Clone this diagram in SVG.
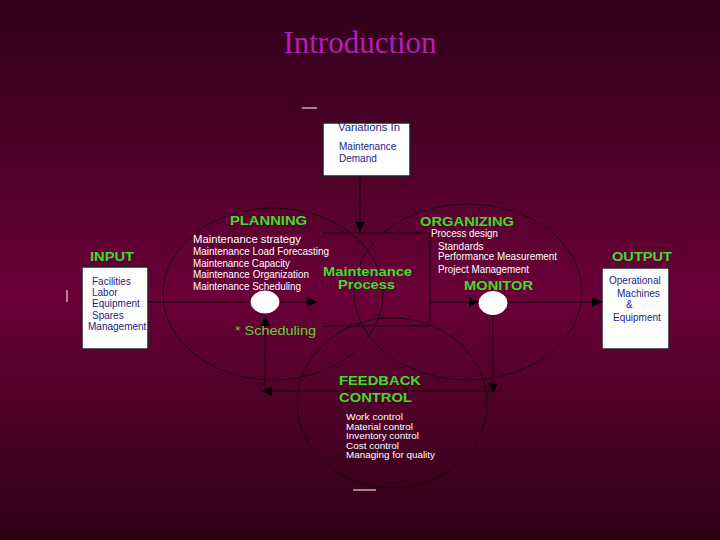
<svg xmlns="http://www.w3.org/2000/svg" width="720" height="540" viewBox="0 0 720 540">
<defs>
<linearGradient id="bg" x1="0" y1="0" x2="0" y2="1">
<stop offset="0" stop-color="#30001a"/>
<stop offset="0.55" stop-color="#6a0038"/>
<stop offset="1" stop-color="#2e0016"/>
</linearGradient>
<marker id="ah" viewBox="0 0 10 10" refX="10" refY="5" markerWidth="10" markerHeight="11" markerUnits="userSpaceOnUse" orient="auto">
<path d="M0,0 L10,5 L0,10 Z" fill="#000"/>
</marker>
<style>
.ln{stroke:#120008;stroke-width:1;fill:none}
.ring{stroke:#1a0610;stroke-width:1;fill:none}
.box{fill:#fff;stroke:#222;stroke-width:1.5}
.node{fill:#fff;stroke:#fff}
.hd{font-family:"Liberation Sans",Arial,sans-serif;font-weight:bold;font-size:12px;fill:#3fdc2a}
.wt{font-family:"Liberation Sans",Arial,sans-serif;font-size:10px;fill:#ffffff}
.fb{font-family:"Liberation Sans",Arial,sans-serif;font-size:9px;fill:#ffffff}
.bl{font-family:"Liberation Sans",Arial,sans-serif;font-size:10px;fill:#1c1c8a}
.dash{stroke:#e8d8e0;stroke-width:1.2}
</style>
</defs>
<rect x="0" y="0" width="720" height="540" fill="url(#bg)"/>
<text x="360" y="53" text-anchor="middle" font-family="Liberation Serif,Times New Roman,serif" font-size="31" fill="#b41eb4">Introduction</text>

<g id="rings">
<ellipse class="ring" cx="273" cy="294" rx="110" ry="86"/>
<ellipse class="ring" cx="468" cy="292" rx="114" ry="88"/>
<ellipse class="ring" cx="392" cy="403" rx="95" ry="85"/>
</g>

<g id="artifacts">
<line class="dash" x1="302" y1="108" x2="317" y2="108"/>
<line class="dash" x1="67" y1="290" x2="67" y2="302"/>
<line class="dash" x1="353" y1="490" x2="376" y2="490"/>
</g>

<g id="connectors">
<line class="ln" x1="360" y1="176" x2="360" y2="232" marker-end="url(#ah)"/>
<polyline class="ln" points="322,233 430,233 430,326 322,326"/>
<line class="ln" x1="430" y1="302" x2="479" y2="302" marker-end="url(#ah)"/>
<line class="ln" x1="148" y1="302" x2="317" y2="302" marker-end="url(#ah)"/>
<line class="ln" x1="507" y1="302" x2="602" y2="302" marker-end="url(#ah)"/>
<line class="ln" x1="493" y1="315" x2="493" y2="393" marker-end="url(#ah)"/>
<line class="ln" x1="493" y1="391" x2="262" y2="391" marker-end="url(#ah)"/>
<line class="ln" x1="265" y1="391" x2="265" y2="316" marker-end="url(#ah)"/>
</g>

<g id="demand">
<rect class="box" x="323" y="123" width="87" height="53" stroke-width="1"/>
<text class="bl" x="338" y="131" textLength="62" lengthAdjust="spacingAndGlyphs">Variations In</text>
<text class="bl" x="339" y="150">Maintenance</text>
<text class="bl" x="339" y="162">Demand</text>
</g>

<g id="input">
<text class="hd" x="90" y="261" textLength="44" lengthAdjust="spacingAndGlyphs">INPUT</text>
<rect class="box" x="82" y="267" width="66" height="82" stroke-width="2"/>
<text class="bl" x="92" y="285">Facilities</text>
<text class="bl" x="92" y="296">Labor</text>
<text class="bl" x="92" y="307">Equipment</text>
<text class="bl" x="92" y="319">Spares</text>
<text class="bl" x="88" y="330">Management</text>
</g>

<g id="output">
<text class="hd" x="612" y="261" textLength="60" lengthAdjust="spacingAndGlyphs">OUTPUT</text>
<rect class="box" x="602" y="268" width="67" height="81" stroke-width="1"/>
<text class="bl" x="609" y="284">Operational</text>
<text class="bl" x="617" y="297">Machines</text>
<text class="bl" x="626" y="308">&amp;</text>
<text class="bl" x="613" y="321">Equipment</text>
</g>

<g id="planning">
<text class="hd" x="230" y="225" textLength="77" lengthAdjust="spacingAndGlyphs">PLANNING</text>
<text class="wt" x="193" y="243" font-size="11" textLength="108" lengthAdjust="spacingAndGlyphs">Maintenance strategy</text>
<text class="wt" x="193" y="255" textLength="136" lengthAdjust="spacingAndGlyphs">Maintenance Load Forecasting</text>
<text class="wt" x="193" y="267" textLength="97" lengthAdjust="spacingAndGlyphs">Maintenance Capacity</text>
<text class="wt" x="193" y="278" textLength="116" lengthAdjust="spacingAndGlyphs">Maintenance Organization</text>
<text class="wt" x="193" y="290" textLength="108" lengthAdjust="spacingAndGlyphs">Maintenance Scheduling</text>
<ellipse class="node" cx="265" cy="302" rx="14" ry="11"/>
<text x="235" y="335" font-family="Liberation Sans,Arial,sans-serif" font-size="13.5" fill="#66cc3a" textLength="81" lengthAdjust="spacingAndGlyphs">* Scheduling</text>
</g>

<g id="process">
<text class="hd" x="323" y="276" font-size="10.5" textLength="89" lengthAdjust="spacingAndGlyphs">Maintenance</text>
<text class="hd" x="338" y="288.5" font-size="10.5" textLength="57" lengthAdjust="spacingAndGlyphs">Process</text>
</g>

<g id="organizing">
<text class="hd" x="420" y="226" textLength="94" lengthAdjust="spacingAndGlyphs">ORGANIZING</text>
<text class="wt" x="431" y="237" textLength="67" lengthAdjust="spacingAndGlyphs">Process design</text>
<text class="wt" x="438" y="250">Standards</text>
<text class="wt" x="438" y="260" textLength="119" lengthAdjust="spacingAndGlyphs">Performance Measurement</text>
<text class="wt" x="438" y="273" textLength="91" lengthAdjust="spacingAndGlyphs">Project Management</text>
</g>

<g id="monitor">
<text class="hd" x="464" y="290" textLength="69" lengthAdjust="spacingAndGlyphs">MONITOR</text>
<ellipse class="node" cx="493" cy="303" rx="14" ry="11.5"/>
</g>

<g id="feedback">
<text class="hd" x="339" y="385" font-size="13" textLength="82" lengthAdjust="spacingAndGlyphs">FEEDBACK</text>
<text class="hd" x="339" y="402" font-size="13" textLength="73" lengthAdjust="spacingAndGlyphs">CONTROL</text>
<text class="fb" x="346" y="420" textLength="57" lengthAdjust="spacingAndGlyphs">Work control</text>
<text class="fb" x="346" y="429.5" textLength="67" lengthAdjust="spacingAndGlyphs">Material control</text>
<text class="fb" x="346" y="439" textLength="73" lengthAdjust="spacingAndGlyphs">Inventory control</text>
<text class="fb" x="346" y="448.5" textLength="53" lengthAdjust="spacingAndGlyphs">Cost control</text>
<text class="fb" x="346" y="458" textLength="89" lengthAdjust="spacingAndGlyphs">Managing for quality</text>
</g>
</svg>
